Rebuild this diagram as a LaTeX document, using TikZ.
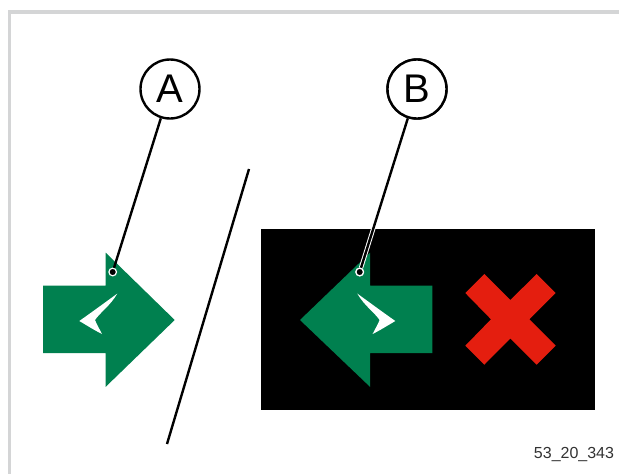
\documentclass[tikz,border=0pt]{standalone}
\usepackage{fontspec}
\setmainfont{Liberation Sans}
\definecolor{signgreen}{HTML}{00804F}
\definecolor{signred}{HTML}{E41E0F}
\definecolor{framegrey}{HTML}{D4D5D6}
\definecolor{codegrey}{HTML}{333333}
\tikzset{
  callout/.style={circle,draw=black,line width=2.4pt,fill=white,minimum size=59pt,inner sep=0pt,font=\fontsize{40}{40}\selectfont},
  leader/.style={draw=black,line width=2.4pt},
  casing/.style={draw=white,line width=4.4pt},
  pindot/.style={circle,fill=black,draw=white,line width=1.2pt,minimum size=7.6pt,inner sep=0pt},
  greenshape/.style={fill=signgreen},
}
\begin{document}
\begin{tikzpicture}[x=1pt,y=-1pt]
\useasboundingbox (0,0) rectangle (619,474);
\fill[white] (0,0) rectangle (619,474);
% frame
\draw[framegrey,line width=3.8pt] (9.5,474) -- (9.5,11.8) -- (619,11.8);
% black panel
\fill[black] (261,228.6) rectangle (594.5,410.3);
% left sign
\fill[greenshape] (43,285.7) -- (105.7,285.7) -- (105.7,252.7) -- (174.7,320) -- (105.7,386.8) -- (105.7,353) -- (43,353) -- cycle;
\fill[white] (79.3,321) .. controls (90,313.5) and (103,304) .. (117.3,293.6) .. controls (110,306) and (100.5,312) .. (95,320) .. controls (97,325) and (99.5,329) .. (102,334) .. controls (94,330) and (87,325.5) .. (79.3,321) -- cycle;
% right sign
\fill[greenshape] (432.3,285.7) -- (370,285.7) -- (370,252.7) -- (300,320) -- (370,386.8) -- (370,353) -- (432.3,353) -- cycle;
\fill[white] (395.3,321) .. controls (384.6,313.5) and (371.6,304) .. (357.3,293.6) .. controls (364.6,306) and (374.1,312) .. (379.6,320) .. controls (377.6,325) and (375.1,329) .. (372.6,334) .. controls (380.6,330) and (387.6,325.5) .. (395.3,321) -- cycle;
% red cross
\fill[signred] (465.3,293) -- (484.3,274) -- (510.3,300) -- (536.7,274) -- (555.7,293) -- (529.3,319.3) -- (555.7,345.7) -- (536.7,364.7) -- (510.3,338.5) -- (484.3,364.7) -- (465.3,345.7) -- (491,319.3) -- cycle;
% divider
\coordinate (divtop) at (249,169);
\coordinate (divbot) at (167,444);
\draw[leader] (divtop) -- (divbot);
% callouts
\node[callout] (A) at (170,89) {A};
\node[callout] (B) at (417,89) {B};
\node[pindot] (dotA) at (112.7,272) {};
\node[pindot] (dotB) at (359.7,272) {};
\draw[casing] (B) -- (dotB);
\draw[leader] (A) -- (dotA);
\draw[leader] (B) -- (dotB);
\node[callout] at (B) {B};
\node[pindot] at (dotB) {};
\node[text=codegrey,font=\fontsize{16}{16}\selectfont,anchor=center,inner sep=0pt] (code) at (574,454) {53\_20\_343};
\end{tikzpicture}
\end{document}
